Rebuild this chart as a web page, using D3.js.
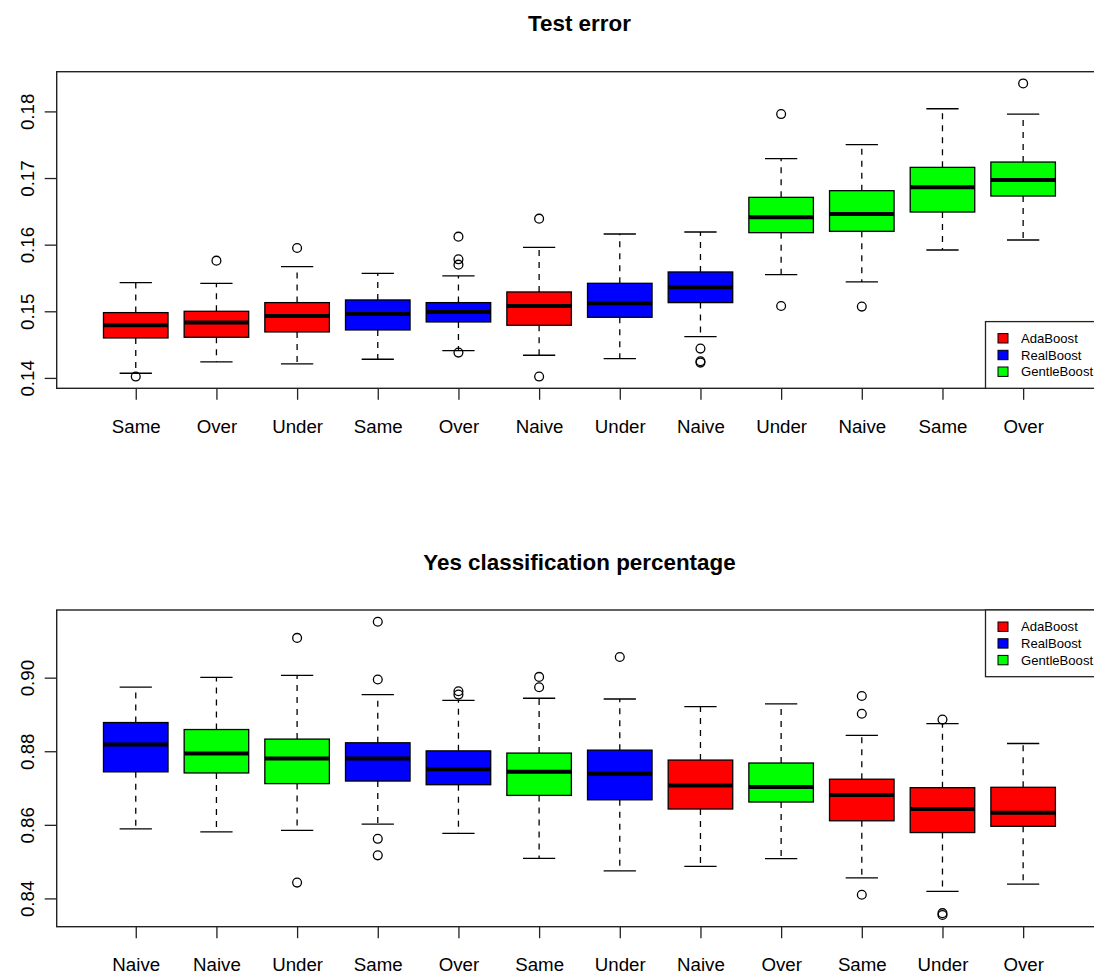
<!DOCTYPE html>
<html>
<head>
<meta charset="utf-8">
<script src="https://cdn.jsdelivr.net/npm/d3@7"></script>
<style>
  html, body { margin: 0; padding: 0; background: #fff; }
  svg { display: block; font-family: "Liberation Sans", Arial, sans-serif; }
</style>
</head>
<body>
<svg id="chart" width="1094" height="974"></svg>
<script>
// ---------- Data: Test error ----------
const testLabels  = ["Same","Over","Under","Same","Over","Naive","Under","Naive","Under","Naive","Same","Over"];
const testMethods = ["AdaBoost","AdaBoost","AdaBoost","RealBoost","RealBoost","AdaBoost","RealBoost","RealBoost","GentleBoost","GentleBoost","GentleBoost","GentleBoost"];
const testLow  = [0.1407,0.1424,0.1421,0.1428,0.1441,0.1434,0.1429,0.1462,0.1555,0.1544,0.1592,0.1607];
const testQ1   = [0.1460,0.1461,0.1469,0.1472,0.1484,0.1479,0.1491,0.1513,0.1618,0.1620,0.1649,0.1673];
const testMed  = [0.1479,0.1483,0.1493,0.1496,0.1499,0.1508,0.1512,0.1536,0.1641,0.1646,0.1686,0.1697];
const testQ3   = [0.1498,0.1500,0.1513,0.1517,0.1513,0.1529,0.1542,0.1559,0.1671,0.1681,0.1716,0.1724];
const testHigh = [0.1543,0.1542,0.1567,0.1557,0.1553,0.1596,0.1616,0.1619,0.1729,0.1750,0.1804,0.1796];
const testOut  = [[0.1402],[0.1576],[0.1595],[],[0.1612,0.1578,0.1570,0.1438],[0.1639,0.1402],[],[0.1444,0.1425,0.1423],[0.1796,0.1508],[0.1507],[],[0.1842]];
const testTicks = [0.14,0.15,0.16,0.17,0.18];

// ---------- Data: Yes classification percentage ----------
const yesLabels  = ["Naive","Naive","Under","Same","Over","Same","Under","Naive","Over","Same","Under","Over"];
const yesMethods = ["RealBoost","GentleBoost","GentleBoost","RealBoost","RealBoost","GentleBoost","RealBoost","AdaBoost","GentleBoost","AdaBoost","AdaBoost","AdaBoost"];
const yesLow  = [0.8589,0.8581,0.8585,0.8602,0.8577,0.8509,0.8475,0.8487,0.8508,0.8456,0.8419,0.8439];
const yesQ1   = [0.8744,0.8741,0.8712,0.8719,0.8709,0.8680,0.8668,0.8643,0.8662,0.8611,0.8579,0.8596];
const yesMed  = [0.8818,0.8794,0.8780,0.8780,0.8751,0.8744,0.8739,0.8707,0.8703,0.8681,0.8643,0.8633];
const yesQ3   = [0.8878,0.8859,0.8833,0.8823,0.8801,0.8795,0.8803,0.8776,0.8768,0.8724,0.8701,0.8702];
const yesHigh = [0.8974,0.9001,0.9006,0.8954,0.8938,0.8944,0.8942,0.8921,0.8929,0.8843,0.8875,0.8821];
const yesOut  = [[],[],[0.9108,0.8443],[0.9152,0.8995,0.8562,0.8517],[0.8963,0.8954],[0.9002,0.8974],[0.9056],[],[],[0.8950,0.8902,0.8410],[0.8886,0.8360,0.8355],[]];
const yesTicks = [0.84,0.86,0.88,0.90];

const legendNames = ["AdaBoost","RealBoost","GentleBoost"];
const legendColors = ["#ff0000","#0000ff","#00ff00"];

// ---------- Drawing ----------
const svg = d3.select("#chart");
const color = d3.scaleOrdinal().domain(legendNames).range(legendColors);

const frameLeft = 56.7, frameRight = 1102.2;
const x = d3.scaleLinear().domain([0.02, 12.98]).range([frameLeft, frameRight]);
const boxW = 0.8 * (x(2) - x(1));

function panel(cfg) {
  const n = cfg.labels.length;
  const all = [].concat(cfg.low, cfg.high, ...cfg.out);
  const [mn, mx] = d3.extent(all);
  const pad = (mx - mn) * 0.04;
  const y = d3.scaleLinear().domain([mn - pad, mx + pad]).range([cfg.bottom, cfg.top]);
  const g = svg.append("g");

  // title
  g.append("text")
    .attr("x", (frameLeft + frameRight) / 2)
    .attr("y", cfg.top - 40.5)
    .attr("text-anchor", "middle")
    .attr("font-size", 22.4)
    .attr("font-weight", "bold")
    .text(cfg.title);

  const idx = d3.range(n);
  const boxes = g.selectAll("g.box").data(idx).join("g").attr("class", "box");

  // whiskers (dashed)
  boxes.append("line")
    .attr("x1", i => x(i + 1)).attr("x2", i => x(i + 1))
    .attr("y1", i => y(cfg.q3[i])).attr("y2", i => y(cfg.high[i]))
    .attr("stroke", "#000").attr("stroke-width", 1.3).attr("stroke-dasharray", "6,6");
  boxes.append("line")
    .attr("x1", i => x(i + 1)).attr("x2", i => x(i + 1))
    .attr("y1", i => y(cfg.q1[i])).attr("y2", i => y(cfg.low[i]))
    .attr("stroke", "#000").attr("stroke-width", 1.3).attr("stroke-dasharray", "6,6");
  // staples
  [cfg.high, cfg.low].forEach(arr => {
    boxes.append("line")
      .attr("x1", i => x(i + 1) - boxW / 4).attr("x2", i => x(i + 1) + boxW / 4)
      .attr("y1", i => y(arr[i])).attr("y2", i => y(arr[i]))
      .attr("stroke", "#000").attr("stroke-width", 1.3);
  });
  // boxes
  boxes.append("rect")
    .attr("x", i => x(i + 1) - boxW / 2)
    .attr("width", boxW)
    .attr("y", i => y(cfg.q3[i]))
    .attr("height", i => y(cfg.q1[i]) - y(cfg.q3[i]))
    .attr("fill", i => color(cfg.methods[i]))
    .attr("stroke", "#000").attr("stroke-width", 1.3);
  // medians
  boxes.append("line")
    .attr("x1", i => x(i + 1) - boxW / 2).attr("x2", i => x(i + 1) + boxW / 2)
    .attr("y1", i => y(cfg.med[i])).attr("y2", i => y(cfg.med[i]))
    .attr("stroke", "#000").attr("stroke-width", 4);
  // outliers
  const outs = [];
  cfg.out.forEach((arr, i) => arr.forEach(v => outs.push({ i, v })));
  g.selectAll("circle.out").data(outs).join("circle")
    .attr("class", "out")
    .attr("cx", d => x(d.i + 1)).attr("cy", d => y(d.v))
    .attr("r", 4.4).attr("fill", "none").attr("stroke", "#000").attr("stroke-width", 1.3);

  // frame
  g.append("rect")
    .attr("x", frameLeft).attr("y", cfg.top)
    .attr("width", frameRight - frameLeft).attr("height", cfg.bottom - cfg.top)
    .attr("fill", "none").attr("stroke", "#222").attr("stroke-width", 1.4);

  // x axis
  const xa = g.append("g").attr("transform", `translate(0,${cfg.bottom})`)
    .call(d3.axisBottom(x).tickValues(idx.map(i => i + 1))
      .tickFormat(d => cfg.labels[d - 1]).tickSize(11.5).tickPadding(19.5));
  xa.select(".domain").remove();
  xa.selectAll("line").attr("stroke", "#222").attr("stroke-width", 1.3);
  xa.selectAll("text").attr("font-size", 18.7).attr("fill", "#000")
    .attr("font-family", "'Liberation Sans', Arial, sans-serif");

  // y axis
  const ya = g.append("g").attr("transform", `translate(${frameLeft},0)`)
    .call(d3.axisLeft(y).tickValues(cfg.ticks).tickFormat(d3.format(".2f")).tickSize(12));
  ya.select(".domain").remove();
  ya.selectAll("line").attr("stroke", "#222").attr("stroke-width", 1.3);
  ya.selectAll("text")
    .attr("transform", "rotate(-90)")
    .attr("x", 0).attr("y", -23.2).attr("dy", null)
    .attr("text-anchor", "middle")
    .attr("font-size", 18.7).attr("fill", "#000")
    .attr("font-family", "'Liberation Sans', Arial, sans-serif");

  // legend
  const lg = g.append("g");
  lg.append("rect")
    .attr("x", 985.5).attr("y", cfg.legTop)
    .attr("width", 130).attr("height", 66.7)
    .attr("fill", "#fff").attr("stroke", "#222").attr("stroke-width", 1.3);
  const items = lg.selectAll("g.item").data(legendNames).join("g").attr("class", "item")
    .attr("transform", (d, k) => `translate(0,${cfg.legTop + 16.7 * (k + 1)})`);
  items.append("rect")
    .attr("x", 998).attr("y", -4.7).attr("width", 10).attr("height", 9.4)
    .attr("fill", d => color(d)).attr("stroke", "#000").attr("stroke-width", 1);
  items.append("text")
    .attr("x", 1021).attr("y", 4.6)
    .attr("font-size", 13.1).attr("fill", "#000")
    .text(d => d);
}

panel({
  title: "Test error", top: 71.7, bottom: 388.3, legTop: 321.6,
  labels: testLabels, methods: testMethods, low: testLow, q1: testQ1, med: testMed,
  q3: testQ3, high: testHigh, out: testOut, ticks: testTicks
});
panel({
  title: "Yes classification percentage", top: 610, bottom: 926.7, legTop: 610,
  labels: yesLabels, methods: yesMethods, low: yesLow, q1: yesQ1, med: yesMed,
  q3: yesQ3, high: yesHigh, out: yesOut, ticks: yesTicks
});
</script>
</body>
</html>
